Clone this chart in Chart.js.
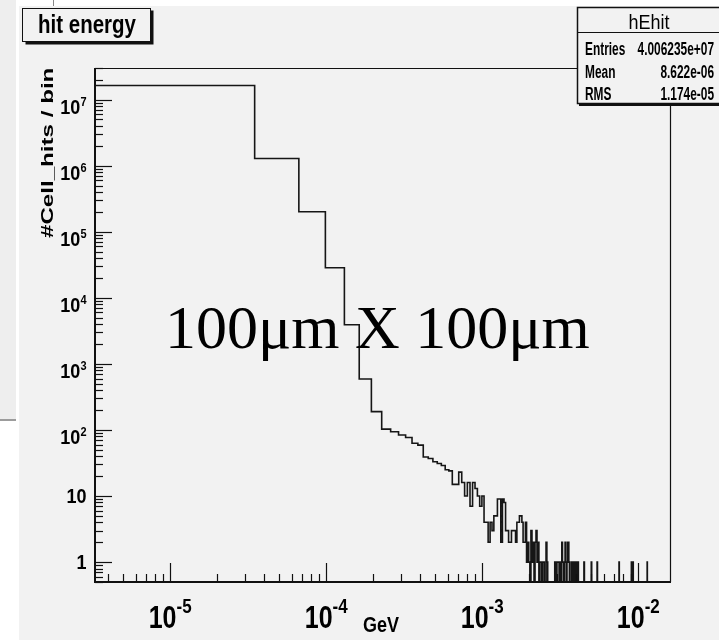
<!DOCTYPE html>
<html>
<head>
<meta charset="utf-8">
<title>hit energy</title>
<script src="https://cdn.jsdelivr.net/npm/chart.js"></script>
<style>
  html, body { margin: 0; padding: 0; background: #fff; }
  canvas { display: block; }
</style>
</head>
<body>
<canvas id="chart-hit" width="719" height="644"></canvas>
<script>
// hEhit: 500 bins, lower edge + width
const binStart = 2.8e-6;
const binWidth = 3.2e-5;
const nBins = 500;

// bins 1..60, counts per bin
const headCounts = [
  16300000, 1280000, 200000, 28500, 3900, 590, 189, 103, 94, 84,
  77, 63, 59, 39, 37, 33, 31, 29, 25, 24,
  15, 15, 23, 16, 10, 16, 7, 16, 13, 10,
  7, 10, 4, 4, 2, 4, 3, 5, 5, 9,
  9, 2, 9, 8, 3, 3, 2, 2, 3, 3,
  3, 2, 4, 4, 5, 5, 4, 2, 2, 4
];

// sparse tail above bin 60 (all other bins empty)
const tailBins = [
  61, 62, 63, 65, 66, 67, 69, 70, 71, 72, 74, 75, 77, 78, 81, 82,
  92, 93, 95, 96, 97, 99, 100,
  102, 103, 104, 106, 107, 108, 110, 111, 112, 113,
  117, 118, 120, 121, 123, 124, 126, 127, 129,
  141, 157, 171, 236, 283, 290, 357
];
const tailCounts = [
  1, 2, 1, 3, 1, 2, 2, 3, 1, 2, 1, 1, 1, 1, 2, 1,
  1, 1, 1, 1, 1, 1, 1,
  2, 1, 1, 1, 2, 1, 1, 2, 2, 1,
  1, 1, 1, 1, 1, 1, 1, 1, 1,
  1, 1, 1, 1, 1, 1, 1
];

const xRange = [3.3e-6, 0.0162];
const yRange = [0.5, 3e7];
const xLabelPowers = [-5, -4, -3, -2];
const yLabelPowers = [0, 1, 2, 3, 4, 5, 6, 7];

const statsNames = ['Entries', 'Mean', 'RMS'];
const statsValues = ['4.006235e+07', '8.622e-06', '1.174e-05'];

const sans = '"Liberation Sans", Arial, Helvetica, sans-serif';
const serif = '"Liberation Serif", "Times New Roman", serif';

function buildPoints() {
  const counts = new Array(nBins).fill(0);
  headCounts.forEach((c, i) => { counts[i] = c; });
  tailBins.forEach((b, i) => { counts[b - 1] = tailCounts[i]; });
  // empty bins sit on the bottom of the frame like ROOT does on log y
  const pts = counts.map((c, i) => ({x: binStart + i * binWidth, y: Math.max(c, yRange[0])}));
  pts.push({x: binStart + nBins * binWidth, y: yRange[0]});
  return pts;
}

function drawText(ctx, str, x, y, o) {
  ctx.save();
  ctx.translate(x, y);
  if (o.rotate) ctx.rotate(o.rotate);
  ctx.scale(o.sx || 1, o.sy || 1);
  ctx.font = o.font;
  ctx.textAlign = o.align || 'left';
  ctx.textBaseline = 'alphabetic';
  ctx.fillStyle = o.color || '#000';
  ctx.fillText(str, 0, 0);
  ctx.restore();
}

function textWidth(ctx, str, font, sx) {
  ctx.save();
  ctx.font = font;
  const w = ctx.measureText(str).width * (sx || 1);
  ctx.restore();
  return w;
}

function line(ctx, x1, y1, x2, y2) {
  ctx.beginPath();
  ctx.moveTo(x1, y1);
  ctx.lineTo(x2, y2);
  ctx.stroke();
}

// log ticks 1..9 x 10^e inside the axis range
function logTicks(min, max) {
  const out = [];
  for (let e = Math.floor(Math.log10(min)); e <= Math.ceil(Math.log10(max)); e++) {
    for (let m = 1; m <= 9; m++) {
      const v = m * Math.pow(10, e);
      if (v >= min && v <= max) out.push({v: v, major: m === 1});
    }
  }
  return out;
}

const rootPad = {
  id: 'rootPad',
  beforeDraw(chart) {
    const ctx = chart.ctx;
    ctx.save();
    ctx.fillStyle = '#ffffff';
    ctx.fillRect(0, 0, chart.width, chart.height);
    // bits of the slide behind the ROOT canvas
    ctx.fillStyle = '#eeeeee';
    ctx.fillRect(0, 0, 16, 419);
    ctx.fillStyle = '#9c9c9c';
    ctx.fillRect(0, 419, 16, 2);
    ctx.fillStyle = '#888888';
    ctx.fillRect(53, 0, 1, 6);
    // ROOT pad
    ctx.fillStyle = '#f2f2f2';
    ctx.fillRect(19, 6, chart.width - 19, 634);
    ctx.restore();
  },
  afterDatasetsDraw(chart) {
    const ctx = chart.ctx;
    const {left, right, top, bottom} = chart.chartArea;
    const xs = chart.scales.x;
    const ys = chart.scales.y;
    ctx.save();
    ctx.strokeStyle = '#111';
    ctx.lineWidth = 1.2;
    line(ctx, left, top + 0.5, right, top + 0.5);
    line(ctx, right - 0.5, top, right - 0.5, bottom);
    ctx.lineWidth = 2;
    line(ctx, left - 1, bottom, right, bottom);
    line(ctx, left, top, left, bottom + 1);

    // ticks point into the frame
    ctx.lineWidth = 1.2;
    logTicks(yRange[0], yRange[1]).forEach(t => {
      const py = Math.round(ys.getPixelForValue(t.v)) + 0.5;
      line(ctx, left, py, left + (t.major ? 17 : 8), py);
    });
    logTicks(xRange[0], xRange[1]).forEach(t => {
      const px = Math.round(xs.getPixelForValue(t.v)) + 0.5;
      line(ctx, px, bottom, px, bottom - (t.major ? 19 : 8));
    });
    ctx.restore();
  },
  afterDraw(chart) {
    const ctx = chart.ctx;
    const xs = chart.scales.x;
    const ys = chart.scales.y;

    // y labels: 1, 10, 10^2 ... 10^7
    const yBase = 'bold 18px ' + sans;
    const ySup = 'bold 11px ' + sans;
    yLabelPowers.forEach(p => {
      const py = ys.getPixelForValue(Math.pow(10, p));
      const xr = 86.5;
      if (p < 2) {
        drawText(ctx, p === 0 ? '1' : '10', xr, py + 7, {font: yBase, align: 'right', sy: 1.16});
      } else {
        const sup = String(p);
        const sw = textWidth(ctx, sup, ySup);
        drawText(ctx, sup, xr, py + 6, {font: ySup, align: 'right', sy: 1.16});
        drawText(ctx, '10', xr - sw, py + 14.5, {font: yBase, align: 'right', sy: 1.16});
      }
    });

    // x labels: 10^-5 ... 10^-2
    const xBase = 'bold 25px ' + sans;
    const xSup = 'bold 17px ' + sans;
    xLabelPowers.forEach(p => {
      const px = xs.getPixelForValue(Math.pow(10, p));
      const sup = String(p);
      const bw = textWidth(ctx, '10', xBase);
      const sw = textWidth(ctx, sup, xSup);
      const x0 = px - (bw + sw) / 2;
      drawText(ctx, '10', x0, 628, {font: xBase, sy: 1.25});
      drawText(ctx, sup, x0 + bw, 613, {font: xSup, sy: 1.2});
    });
    drawText(ctx, 'GeV', 363, 632, {font: 'bold 18px ' + sans, sy: 1.25});

    // y axis title
    drawText(ctx, '#Cell_hits / bin', 53, 238, {font: 'bold 17px ' + sans, rotate: -Math.PI / 2, sx: 1.42});

    // title box with shadow
    ctx.save();
    ctx.fillStyle = '#111';
    ctx.fillRect(25.5, 10.5, 128, 34);
    ctx.fillStyle = '#f2f2f2';
    ctx.fillRect(22.5, 8.5, 128, 33);
    ctx.strokeStyle = '#111';
    ctx.lineWidth = 1;
    ctx.strokeRect(22.5, 8.5, 128, 33);
    ctx.restore();
    drawText(ctx, 'hit energy', 87, 33, {font: 'bold 20.5px ' + sans, align: 'center', sy: 1.22});

    // stats box
    ctx.save();
    ctx.fillStyle = '#111';
    ctx.fillRect(579, 9, 145, 97);
    ctx.fillStyle = '#f2f2f2';
    ctx.fillRect(577, 7, 145, 96);
    ctx.strokeStyle = '#111';
    ctx.lineWidth = 1.5;
    ctx.strokeRect(577.5, 7.5, 145, 96);
    ctx.lineWidth = 1;
    line(ctx, 577, 32.5, 719, 32.5);
    ctx.restore();
    drawText(ctx, 'hEhit', 649, 29, {font: '18px ' + sans, align: 'center', sy: 1.1});
    const statFont = 'bold 14px ' + sans;
    statsNames.forEach((name, i) => {
      const by = 55 + i * 22.5;
      drawText(ctx, name, 585, by, {font: statFont, sx: 0.85, sy: 1.25});
      drawText(ctx, statsValues[i], 714, by, {font: statFont, align: 'right', sx: 0.85, sy: 1.25});
    });

    // overlay text from the slide
    drawText(ctx, '100\u03bcm X 100\u03bcm', 165, 348, {font: '62px ' + serif});
  }
};

const hitCanvas = document.getElementById('chart-hit');
new Chart(hitCanvas, {
  type: 'line',
  data: {
    datasets: [
      {
        label: 'hEhit',
        data: buildPoints(),
        stepped: true,
        borderColor: '#161616',
        borderWidth: 1.6,
        pointRadius: 0,
        fill: false,
        tension: 0,
      },
    ]
  },
  options: {
    responsive: false,
    animation: false,
    devicePixelRatio: 1,
    layout: {
      padding: {left: 95, top: 68, right: 48, bottom: 62}
    },
    plugins: {
      legend: {display: false},
      tooltip: {enabled: false},
      title: {display: false},
    },
    scales: {
      x: {
        type: 'logarithmic',
        min: xRange[0],
        max: xRange[1],
        display: false,
      },
      y: {
        type: 'logarithmic',
        min: yRange[0],
        max: yRange[1],
        display: false,
      }
    }
  },
  plugins: [rootPad]
});
</script>
</body>
</html>
